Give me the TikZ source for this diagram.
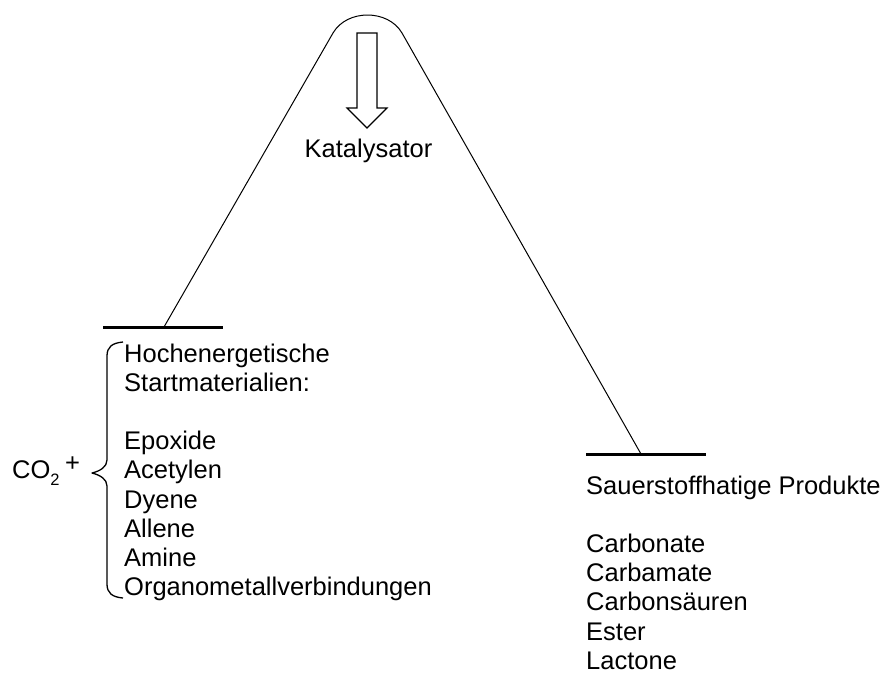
\documentclass[tikz,border=0pt]{standalone}
\usepackage{fontspec}
\setmainfont{Liberation Sans}
\begin{document}
\begin{tikzpicture}[x=1pt,y=-1pt,
  lbl/.style={anchor=base west,inner sep=0pt,font=\fontsize{25.5}{29}\selectfont},
  thin/.style={line width=1pt},
  level/.style={line width=3pt},
  bracestyle/.style={line width=1.3pt,line join=round},
  arrowbox/.style={line width=1.2pt,fill=white,line join=miter}]
\useasboundingbox (0,0) rectangle (882,673);
% energy levels
\coordinate (l1) at (103,327); \coordinate (l2) at (223,327);
\coordinate (r1) at (586,454); \coordinate (r2) at (706,454);
\coordinate (lfoot) at (164,327); \coordinate (rfoot) at (641,454);
\coordinate (pl) at (333,33); \coordinate (pr) at (402,33);
\draw[level] (l1) -- (l2);
\draw[level] (r1) -- (r2);
% reaction path
\draw[thin] (lfoot) -- (pl) .. controls (347,9) and (388,9) .. (pr) -- (rfoot);
% catalyst arrow
\draw[arrowbox] (357,33) -- (377,33) -- (377,108) -- (387,108) -- (367,128) -- (347,108) -- (357,108) -- cycle;
\node[lbl,anchor=base] (kat) at (368.5,157) {Katalysator};
% left list
\foreach \t [count=\i] in {Hochenergetische,Startmaterialien:,,Epoxide,Acetylen,Dyene,Allene,Amine,Organometallverbindungen}
  \node[lbl] (L\i) at (124,{362+29.2*(\i-1)}) {\t};
% right list
\foreach \t [count=\i] in {Sauerstoffhatige Produkte,,Carbonate,Carbamate,Carbonsäuren,Ester,Lactone}
  \node[lbl] (R\i) at (586,{494+29.2*(\i-1)}) {\t};
% brace
\draw[bracestyle] (123,342) .. controls (112,343) and (107,347) .. (107,356)
  -- (107,460) .. controls (107,467) and (100,471) .. (92,473)
  .. controls (100,475) and (107,479) .. (107,486)
  -- (107,584) .. controls (107,593) and (112,597) .. (123,598);
% CO2 +
\node[lbl] (co2) at (12,478) {CO\raisebox{-7pt}{\fontsize{16.5}{18}\selectfont 2}};
\node[lbl] (plus) at (65,471) {+};
\end{tikzpicture}
\end{document}
